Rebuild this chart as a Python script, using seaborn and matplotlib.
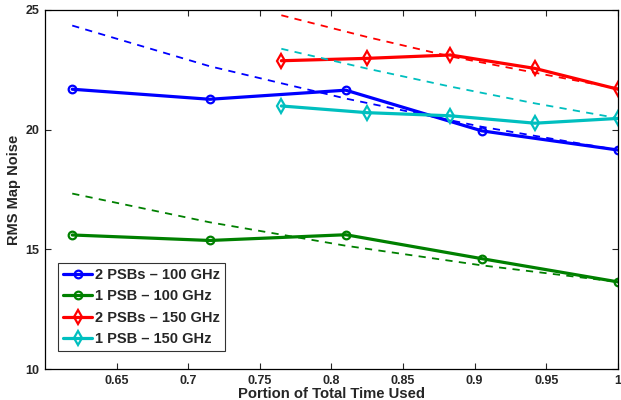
import matplotlib
matplotlib.use("Agg")
from matplotlib import pyplot as plt
from matplotlib.ticker import FuncFormatter
import seaborn as sns

# 100 GHz runs
time_100 = [0.619, 0.715, 0.810, 0.905, 1.0]
noise_2psb_100 = [21.69, 21.27, 21.65, 19.95, 19.15]
noise_1psb_100 = [15.60, 15.37, 15.61, 14.61, 13.64]
expect_2psb_100 = [24.35, 22.65, 21.30, 20.12, 19.15]
expect_1psb_100 = [17.33, 16.13, 15.15, 14.33, 13.64]

# 150 GHz runs
time_150 = [0.765, 0.825, 0.883, 0.942, 1.0]
noise_2psb_150 = [22.88, 22.98, 23.12, 22.56, 21.69]
noise_1psb_150 = [20.99, 20.71, 20.58, 20.27, 20.47]
expect_2psb_150 = [24.78, 23.87, 23.06, 22.38, 21.72]
expect_1psb_150 = [23.38, 22.55, 21.80, 21.10, 20.48]

labels = ["2 PSBs \u2013 100 GHz", "1 PSB \u2013 100 GHz",
          "2 PSBs \u2013 150 GHz", "1 PSB \u2013 150 GHz"]
colors = ["#0000ff", "#008000", "#ff0000", "#00bfbf"]

sns.set_style("ticks")
plt.rcParams["font.family"] = ["Liberation Sans", "DejaVu Sans"]
plt.rcParams["font.weight"] = "bold"

fig, ax = plt.subplots(figsize=(6.21, 4.0), dpi=100)
fig.subplots_adjust(left=0.0725, right=0.995, top=0.975, bottom=0.0775)

series = [
    (time_100, noise_2psb_100, expect_2psb_100, "o", 5.5),
    (time_100, noise_1psb_100, expect_1psb_100, "o", 5.5),
    (time_150, noise_2psb_150, expect_2psb_150, "d", 7.5),
    (time_150, noise_1psb_150, expect_1psb_150, "d", 7.5),
]

for (t, noise, expect, mk, ms), lab, col in zip(series, labels, colors):
    sns.lineplot(x=t, y=noise, ax=ax, color=col, linewidth=2.3,
                 marker=mk, markersize=ms, markerfacecolor="none",
                 markeredgecolor=col, markeredgewidth=1.6, label=lab)
    sns.lineplot(x=t, y=expect, ax=ax, color=col, linewidth=1.3,
                 linestyle=(0, (4, 3.5)), label="_nolegend_")

ax.set_xlim(0.6, 1.0)
ax.set_ylim(10, 25)
ax.set_xticks([0.65, 0.7, 0.75, 0.8, 0.85, 0.9, 0.95, 1.0])
ax.set_yticks([10, 15, 20, 25])
fmt = FuncFormatter(lambda v, p: "%g" % v)
ax.xaxis.set_major_formatter(fmt)
ax.yaxis.set_major_formatter(fmt)
ax.tick_params(direction="in", top=True, right=True, length=4,
               width=0.8, labelsize=9, pad=4)
for side in ax.spines.values():
    side.set_linewidth(0.9)
    side.set_color("black")

ax.set_xlabel("Portion of Total Time Used", fontsize=10.7, fontweight="bold",
              labelpad=0)
ax.set_ylabel("RMS Map Noise", fontsize=10.5, fontweight="bold", labelpad=3)

leg = ax.legend(loc="lower left", bbox_to_anchor=(0.023, 0.05),
                fontsize=10.5, frameon=True, fancybox=False,
                handlelength=2.0, handletextpad=0.2, borderpad=0.35,
                labelspacing=0.5, borderaxespad=0)
leg.get_frame().set_edgecolor("black")
leg.get_frame().set_linewidth(0.8)
for txt in leg.get_texts():
    txt.set_fontweight("bold")

fig.savefig("out.png", dpi=100)
